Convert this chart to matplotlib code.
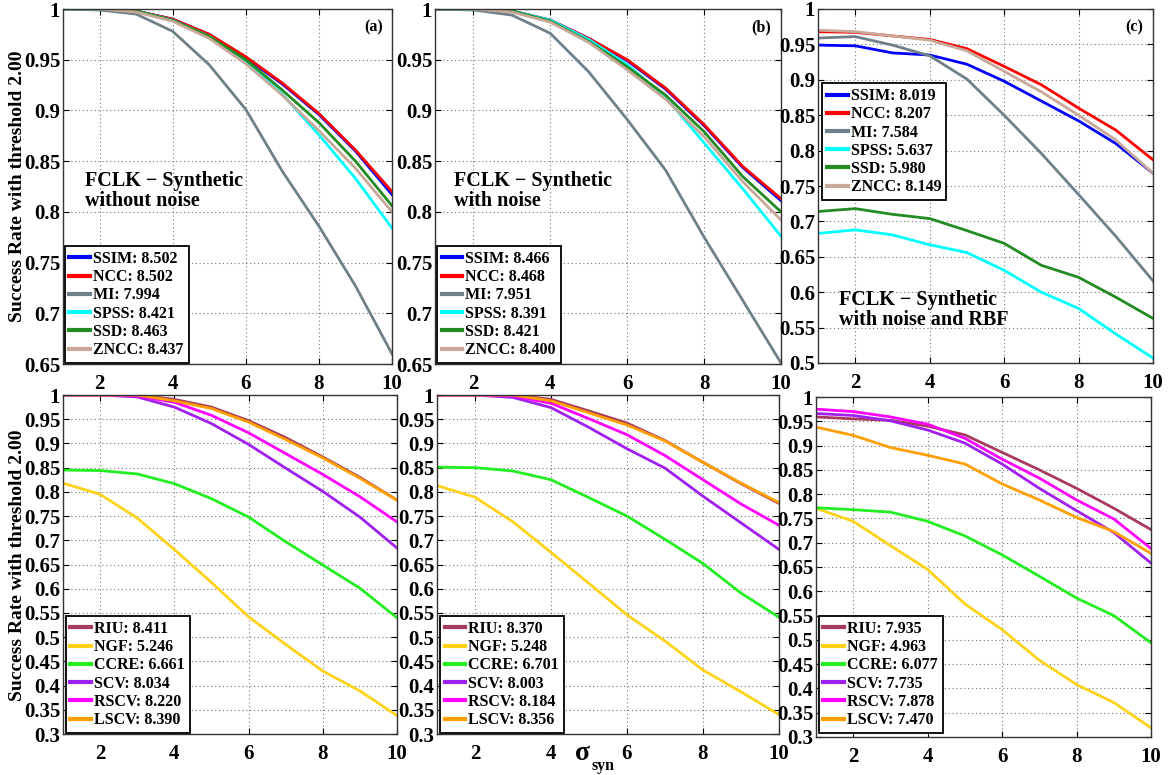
import matplotlib
matplotlib.use("Agg")
import matplotlib.pyplot as plt
from matplotlib.ticker import FuncFormatter
import numpy as np

plt.rcParams['font.family'] = ['Liberation Serif', 'DejaVu Serif']
plt.rcParams['font.weight'] = 'bold'

x = [1, 2, 3, 4, 5, 6, 7, 8, 9, 10]

# ---- Top row: FCLK synthetic ----
top_names = ['SSIM', 'NCC', 'MI', 'SPSS', 'SSD', 'ZNCC']
top_colors = ['#0000FF', '#FF0000', '#708088', '#00FFFF', '#228B22', '#C8A898']

a_scores = ['8.502', '8.502', '7.994', '8.421', '8.463', '8.437']
a_SSIM = [1.0, 1.0, 0.998, 0.990, 0.975, 0.952, 0.926, 0.896, 0.860, 0.817]
a_NCC  = [1.0, 1.0, 0.998, 0.990, 0.975, 0.953, 0.927, 0.897, 0.861, 0.820]
a_MI   = [1.0, 0.999, 0.995, 0.978, 0.945, 0.901, 0.840, 0.786, 0.727, 0.660]
a_SPSS = [1.0, 1.0, 0.998, 0.989, 0.973, 0.948, 0.916, 0.876, 0.833, 0.784]
a_SSD  = [1.0, 1.0, 0.998, 0.989, 0.973, 0.950, 0.920, 0.888, 0.850, 0.806]
a_ZNCC = [1.0, 1.0, 0.997, 0.988, 0.971, 0.946, 0.915, 0.880, 0.843, 0.800]

b_scores = ['8.466', '8.468', '7.951', '8.391', '8.421', '8.400']
b_SSIM = [1.0, 1.0, 0.998, 0.989, 0.971, 0.949, 0.921, 0.885, 0.844, 0.811]
b_NCC  = [1.0, 1.0, 0.998, 0.989, 0.971, 0.950, 0.922, 0.886, 0.845, 0.813]
b_MI   = [1.0, 0.999, 0.994, 0.976, 0.938, 0.891, 0.841, 0.775, 0.713, 0.651]
b_SPSS = [1.0, 1.0, 0.998, 0.989, 0.970, 0.945, 0.913, 0.868, 0.823, 0.776]
b_SSD  = [1.0, 1.0, 0.998, 0.988, 0.968, 0.943, 0.915, 0.879, 0.835, 0.800]
b_ZNCC = [1.0, 1.0, 0.997, 0.987, 0.967, 0.940, 0.911, 0.874, 0.830, 0.792]

c_scores = ['8.019', '8.207', '7.584', '5.637', '5.980', '8.149']
c_SSIM = [0.949, 0.948, 0.938, 0.935, 0.922, 0.898, 0.870, 0.842, 0.810, 0.768]
c_NCC  = [0.968, 0.967, 0.962, 0.957, 0.944, 0.919, 0.893, 0.860, 0.829, 0.787]
c_MI   = [0.959, 0.961, 0.949, 0.934, 0.901, 0.850, 0.796, 0.738, 0.679, 0.616]
c_SPSS = [0.683, 0.688, 0.681, 0.667, 0.656, 0.631, 0.600, 0.577, 0.541, 0.507]
c_SSD  = [0.714, 0.718, 0.710, 0.704, 0.687, 0.669, 0.638, 0.621, 0.593, 0.563]
c_ZNCC = [0.970, 0.968, 0.962, 0.956, 0.941, 0.912, 0.883, 0.850, 0.815, 0.768]

# ---- Bottom row ----
bot_names = ['RIU', 'NGF', 'CCRE', 'SCV', 'RSCV', 'LSCV']
bot_colors = ['#A83A5C', '#FFD21A', '#22EE22', '#A020F0', '#FF00FF', '#FFA000']

d_scores = ['8.411', '5.246', '6.661', '8.034', '8.220', '8.390']
d_RIU  = [1.0, 1.0, 1.0, 0.991, 0.975, 0.947, 0.912, 0.872, 0.830, 0.783]
d_NGF  = [0.818, 0.795, 0.746, 0.681, 0.613, 0.542, 0.485, 0.430, 0.389, 0.338]
d_CCRE = [0.845, 0.844, 0.837, 0.817, 0.786, 0.748, 0.697, 0.649, 0.601, 0.540]
d_SCV  = [1.0, 1.0, 0.996, 0.975, 0.941, 0.898, 0.849, 0.801, 0.748, 0.684]
d_RSCV = [1.0, 1.0, 0.998, 0.985, 0.958, 0.922, 0.879, 0.836, 0.790, 0.738]
d_LSCV = [1.0, 1.0, 1.0, 0.988, 0.972, 0.944, 0.908, 0.870, 0.828, 0.783]

e_scores = ['8.370', '5.248', '6.701', '8.003', '8.184', '8.356']
e_RIU  = [1.0, 1.0, 1.0, 0.991, 0.967, 0.942, 0.906, 0.861, 0.817, 0.776]
e_NGF  = [0.813, 0.789, 0.738, 0.675, 0.611, 0.546, 0.492, 0.432, 0.387, 0.340]
e_CCRE = [0.851, 0.850, 0.843, 0.825, 0.788, 0.750, 0.702, 0.652, 0.591, 0.541]
e_SCV  = [1.0, 1.0, 0.995, 0.974, 0.933, 0.889, 0.849, 0.791, 0.736, 0.681]
e_RSCV = [1.0, 1.0, 0.998, 0.983, 0.951, 0.918, 0.875, 0.825, 0.775, 0.731]
e_LSCV = [1.0, 1.0, 1.0, 0.988, 0.963, 0.938, 0.905, 0.861, 0.818, 0.778]

f_scores = ['7.935', '4.963', '6.077', '7.735', '7.878', '7.470']
f_RIU  = [0.959, 0.955, 0.952, 0.940, 0.922, 0.886, 0.850, 0.812, 0.771, 0.727]
f_NGF  = [0.771, 0.744, 0.694, 0.645, 0.574, 0.521, 0.458, 0.408, 0.371, 0.319]
f_CCRE = [0.772, 0.768, 0.763, 0.744, 0.714, 0.675, 0.631, 0.586, 0.550, 0.494]
f_SCV  = [0.966, 0.962, 0.951, 0.932, 0.905, 0.862, 0.812, 0.766, 0.721, 0.658]
f_RSCV = [0.975, 0.970, 0.959, 0.944, 0.915, 0.872, 0.833, 0.788, 0.749, 0.688]
f_LSCV = [0.938, 0.921, 0.896, 0.880, 0.862, 0.821, 0.788, 0.752, 0.723, 0.678]

W, H = 1173, 775
fig = plt.figure(figsize=(W / 100, H / 100), dpi=100)

def add_ax(l, r, t, b):
    return fig.add_axes([l / W, 1 - b / H, (r - l) / W, (b - t) / H])

panels = [
    ((63, 392, 9, 364), [a_SSIM, a_NCC, a_MI, a_SPSS, a_SSD, a_ZNCC], top_names, top_colors, a_scores,
     (0.65, 1.0), '(a)', 'FCLK \u2212 Synthetic\nwithout noise', (0.067, 0.545), ('lower left', (0.005, 0.003))),
    ((435, 781, 9, 364), [b_SSIM, b_NCC, b_MI, b_SPSS, b_SSD, b_ZNCC], top_names, top_colors, b_scores,
     (0.65, 1.0), '(b)', 'FCLK \u2212 Synthetic\nwith noise', (0.055, 0.545), ('lower left', (0.005, 0.003))),
    ((818, 1153, 9, 363), [c_SSIM, c_NCC, c_MI, c_SPSS, c_SSD, c_ZNCC], top_names, top_colors, c_scores,
     (0.5, 1.0), '(c)', 'FCLK \u2212 Synthetic\nwith noise and RBF', (0.063, 0.205), ('upper left', (0.012, 0.79))),
    ((63, 397, 395, 734), [d_RIU, d_NGF, d_CCRE, d_SCV, d_RSCV, d_LSCV], bot_names, bot_colors, d_scores,
     (0.3, 1.0), None, None, None, ('lower left', (0.008, 0.003))),
    ((437, 779, 395, 734), [e_RIU, e_NGF, e_CCRE, e_SCV, e_RSCV, e_LSCV], bot_names, bot_colors, e_scores,
     (0.3, 1.0), None, None, None, ('lower left', (0.008, 0.003))),
    ((816, 1151, 397, 737), [f_RIU, f_NGF, f_CCRE, f_SCV, f_RSCV, f_LSCV], bot_names, bot_colors, f_scores,
     (0.3, 1.0), None, None, None, ('lower left', (0.008, 0.012))),
]

fmt = FuncFormatter(lambda v, p: ('%g' % round(v, 2)))

for pos, series, names, colors, scores, ylim, tag, txt, tpos, leg in panels:
    ax = add_ax(*pos)
    for ys, nm, col, sc in zip(series, names, colors, scores):
        ax.plot(x, ys, color=col, lw=2.0, label=f'{nm}: {sc}', solid_joinstyle='round')
    ax.set_xlim(1, 10)
    ax.set_ylim(*ylim)
    ax.set_xticks([2, 4, 6, 8, 10])
    ax.set_yticks(np.arange(ylim[0], 1.0001, 0.05))
    ax.yaxis.set_major_formatter(fmt)
    ax.grid(True, linestyle=(0, (1, 2.5)), color='#777777', lw=0.8)
    ax.tick_params(direction='in', top=True, right=True, length=4, labelsize=15)
    ax.tick_params(axis='x', pad=7)
    ax.tick_params(axis='y', pad=2)
    for lab in ax.get_xticklabels() + ax.get_yticklabels():
        lab.set_fontweight('bold')
    for s in ax.spines.values():
        s.set_color('#333333')
        s.set_linewidth(1.0)
    lg = ax.legend(loc=leg[0], bbox_to_anchor=leg[1], borderaxespad=0,
                   handlelength=1.3, handletextpad=0.2, labelspacing=0.14, borderpad=0.3,
                   fancybox=False, framealpha=1, prop={'weight': 'bold', 'size': 11.5})
    lg.get_frame().set_edgecolor('black')
    lg.get_frame().set_linewidth(1.3)
    for ln in lg.get_lines():
        ln.set_linewidth(3)
    if tag:
        ax.text(0.972, 0.97, tag, transform=ax.transAxes, ha='right', va='top',
                fontsize=11.5, fontweight='bold')
    if txt:
        ax.text(tpos[0], tpos[1], txt, transform=ax.transAxes, ha='left', va='top',
                fontsize=14.5, fontweight='bold', linespacing=1.0)

fig.text(18 / W, 1 - 186 / H, 'Success Rate with threshold 2.00', rotation=90,
         ha='center', va='center', fontsize=14, fontweight='bold')
fig.text(18 / W, 1 - 565 / H, 'Success Rate with threshold 2.00', rotation=90,
         ha='center', va='center', fontsize=14, fontweight='bold')
fig.text(590 / W, 1 - 753 / H, '\u03c3', ha='right', va='center', fontsize=20)
fig.text(591 / W, 1 - 766 / H, 'syn', ha='left', va='center', fontsize=11.5, fontweight='bold')

fig.savefig('out.png', dpi=100)
